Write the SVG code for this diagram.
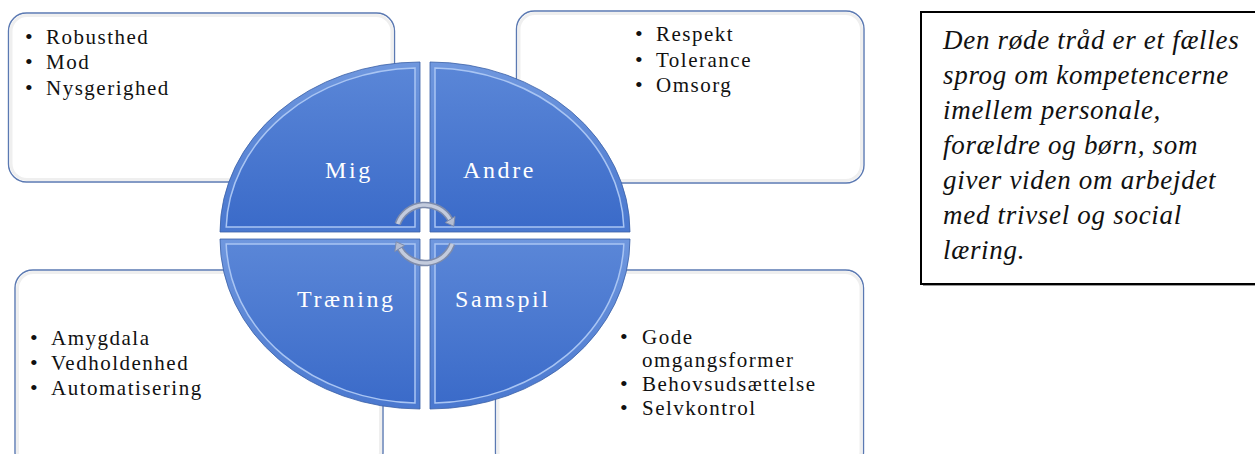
<svg xmlns="http://www.w3.org/2000/svg" width="1255" height="454" viewBox="0 0 1255 454">
<style>
.box{fill:#ffffff;stroke:#5b79b2;stroke-width:1.4}
.boxin{fill:none;stroke:#efefef;stroke-width:3}
.item{font-family:"Liberation Serif",serif;font-size:21px;letter-spacing:1.5px;fill:#111}
.bul{font-family:"Liberation Serif",serif;font-size:22px;fill:#111}
.lbl{font-family:"Liberation Serif",serif;font-size:24px;letter-spacing:2.6px;fill:#ffffff}
.q{fill:url(#qg);stroke:#3a5fa6;stroke-width:0.8}
.qin{fill:url(#qg2);stroke:#a9c5f3;stroke-width:1.5}
.note{font-family:"Liberation Serif",serif;font-style:italic;font-size:27px;letter-spacing:0.7px;fill:#111}
.arcout{fill:none;stroke:#7d8bab;stroke-width:6.5}
.arcin{fill:none;stroke:#c3cbdd;stroke-width:3.5}
.head{fill:#b4bdd2;stroke:#7d8bab;stroke-width:1}
</style>
<defs>
<linearGradient id="qg" x1="0" y1="0" x2="0" y2="1">
<stop offset="0" stop-color="#6f97de"/>
<stop offset="1" stop-color="#4a78cf"/>
</linearGradient>
<linearGradient id="qg2" x1="0" y1="0" x2="0" y2="1">
<stop offset="0" stop-color="#5a86d7"/>
<stop offset="1" stop-color="#3b6bc9"/>
</linearGradient>
</defs>
<rect width="1255" height="454" fill="#ffffff"/>
<g id="box-mig">
<rect class="box" x="8.5" y="13" width="386" height="169" rx="18"/>
<rect class="boxin" x="11" y="15.5" width="381" height="164" rx="16"/>
<text class="bul" x="25" y="44">•</text><text class="item" x="46" y="44">Robusthed</text>
<text class="bul" x="25" y="69">•</text><text class="item" x="46" y="69">Mod</text>
<text class="bul" x="25" y="95">•</text><text class="item" x="46" y="95">Nysgerighed</text>
</g>
<g id="box-andre">
<rect class="box" x="516.5" y="11" width="347.5" height="172" rx="18"/>
<rect class="boxin" x="519" y="13.5" width="342.5" height="167" rx="16"/>
<text class="bul" x="635" y="41">•</text><text class="item" x="656" y="41">Respekt</text>
<text class="bul" x="635" y="67">•</text><text class="item" x="656" y="67">Tolerance</text>
<text class="bul" x="635" y="92">•</text><text class="item" x="656" y="92">Omsorg</text>
</g>
<g id="box-traening">
<rect class="box" x="15" y="270" width="368" height="200" rx="18"/>
<rect class="boxin" x="17.5" y="272.5" width="363" height="195" rx="16"/>
<text class="bul" x="30" y="345">•</text><text class="item" x="51" y="345">Amygdala</text>
<text class="bul" x="30" y="370">•</text><text class="item" x="51" y="370">Vedholdenhed</text>
<text class="bul" x="30" y="395">•</text><text class="item" x="51" y="395">Automatisering</text>
</g>
<g id="box-samspil">
<rect class="box" x="495.5" y="270" width="368" height="200" rx="18"/>
<rect class="boxin" x="498" y="272.5" width="363" height="195" rx="16"/>
<text class="bul" x="620" y="344">•</text><text class="item" x="642" y="344">Gode</text>
<text class="item" x="642" y="367">omgangsformer</text>
<text class="bul" x="620" y="391">•</text><text class="item" x="642" y="391">Behovsudsættelse</text>
<text class="bul" x="620" y="415">•</text><text class="item" x="642" y="415">Selvkontrol</text>
</g>
<g id="quad-mig">
<path class="q" d="M420,232 L220,232 A200,170 0 0 1 420,62 Z"/>
<path class="qin" d="M415,227 L226.2,227 A194,164 0 0 1 415,68.1 Z"/>
<text class="lbl" x="325" y="178">Mig</text>
</g>
<g id="quad-andre">
<path class="q" d="M430,232 L430,62 A200,170 0 0 1 630,232 Z"/>
<path class="qin" d="M435,227 L435,68.1 A194,164 0 0 1 623.8,227 Z"/>
<text class="lbl" x="463" y="178">Andre</text>
</g>
<g id="quad-traening">
<path class="q" d="M420,239 L420,409 A200,170 0 0 1 220,239 Z"/>
<path class="qin" d="M415,244 L415,402.9 A194,164 0 0 1 226.2,244 Z"/>
<text class="lbl" x="297" y="307">Træning</text>
</g>
<g id="quad-samspil">
<path class="q" d="M430,239 L630,239 A200,170 0 0 1 430,409 Z"/>
<path class="qin" d="M435,244 L623.8,244 A194,164 0 0 1 435,402.9 Z"/>
<text class="lbl" x="455" y="307">Samspil</text>
</g>
<g id="connectors">
<path class="arcout" d="M397.7,224 A29,29 0 0 1 450.1,219.5"/>
<path class="arcin" d="M397.7,224 A29,29 0 0 1 450.1,219.5"/>
<polygon class="head" points="455,216.5 445.2,222.5 453.8,226.2"/>
<path class="arcout" d="M452.3,243.9 A29,29 0 0 1 399.9,248.5"/>
<path class="arcin" d="M452.3,243.9 A29,29 0 0 1 399.9,248.5"/>
<polygon class="head" points="394.8,251.5 404.6,245.5 396.2,241.8"/>
</g>
<g id="note">
<rect x="923" y="14" width="340" height="272" fill="#9a9a9a"/>
<rect x="921" y="12" width="340" height="272" fill="#ffffff" stroke="#000000" stroke-width="2"/>
<text class="note" x="943" y="49">Den røde tråd er et fælles</text>
<text class="note" x="943" y="84">sprog om kompetencerne</text>
<text class="note" x="943" y="119">imellem personale,</text>
<text class="note" x="943" y="154">forældre og børn, som</text>
<text class="note" x="943" y="189">giver viden om arbejdet</text>
<text class="note" x="943" y="224">med trivsel og social</text>
<text class="note" x="943" y="259">læring.</text>
</g>
</svg>
